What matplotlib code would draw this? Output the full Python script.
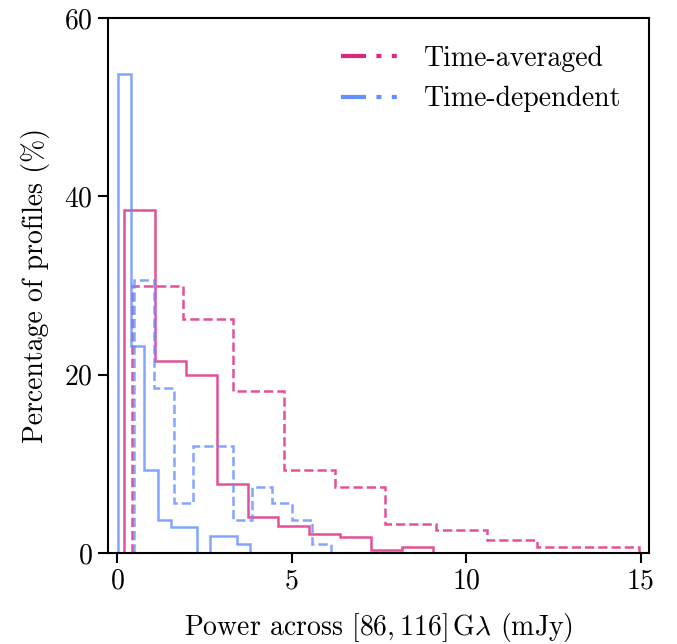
import matplotlib
matplotlib.use('Agg')
import matplotlib.pyplot as plt
from matplotlib.lines import Line2D
import numpy as np

plt.rcParams['font.family'] = 'serif'
plt.rcParams['font.serif'] = ['cmr10']
plt.rcParams['mathtext.fontset'] = 'cm'
plt.rcParams['axes.formatter.use_mathtext'] = True

pink = '#dc267f'
blue = '#648fff'

# percentage of profiles per bin, 10 equal bins between (lo, hi)
avg_solid_range = (0.21, 9.04)
avg_solid = [38.5, 21.5, 20.0, 7.8, 4.1, 3.0, 2.2, 1.85, 0.35, 0.75]

avg_dashed_range = (0.43, 14.95)
avg_dashed = [30.0, 26.3, 18.2, 9.3, 7.4, 3.3, 2.6, 1.45, 0.67, 0.67]

dep_solid_range = (0.03, 3.80)
dep_solid = [53.7, 23.2, 9.3, 3.7, 2.9, 2.9, 0.0, 1.9, 1.9, 1.0]

dep_dashed_range = (0.49, 6.14)
dep_dashed = [30.6, 18.5, 5.6, 12.0, 12.0, 3.7, 7.4, 5.6, 3.7, 1.0]

series = [
    (avg_solid, avg_solid_range, pink, '-'),
    (avg_dashed, avg_dashed_range, pink, '--'),
    (dep_solid, dep_solid_range, blue, '-'),
    (dep_dashed, dep_dashed_range, blue, '--'),
]

fig = plt.figure(figsize=(6.77, 6.44), dpi=100)
ax = fig.add_axes([0.159, 0.141, 0.800, 0.831])

for vals, (lo, hi), col, ls in series:
    edges = np.linspace(lo, hi, len(vals) + 1)
    ax.stairs(vals, edges, color=col, linestyle=ls, linewidth=1.8, alpha=0.8)

ax.set_xlim(-0.27, 15.25)
ax.set_ylim(0, 60)
ax.set_xticks([0, 5, 10, 15])
ax.set_yticks([0, 20, 40, 60])
ax.tick_params(direction='out', length=7, width=1.5, labelsize=20)
for sp in ax.spines.values():
    sp.set_linewidth(1.5)

ax.set_xlabel(r'Power across $[86, 116]\,\mathrm{G}\lambda$ (mJy)', fontsize=20, labelpad=12)
ax.set_ylabel('Percentage of profiles (%)', fontsize=20, labelpad=10)

ls_leg = (0, (6, 2.5, 1.2, 2.5, 1.2, 2.5))
handles = [
    Line2D([], [], color=pink, linestyle=ls_leg, linewidth=3),
    Line2D([], [], color=blue, linestyle=ls_leg, linewidth=3),
]
ax.legend(handles, ['Time-averaged', 'Time-dependent'], loc='upper right',
          frameon=False, fontsize=20, handlelength=2.2, borderaxespad=0.6)

fig.savefig('out.png', dpi=100)
